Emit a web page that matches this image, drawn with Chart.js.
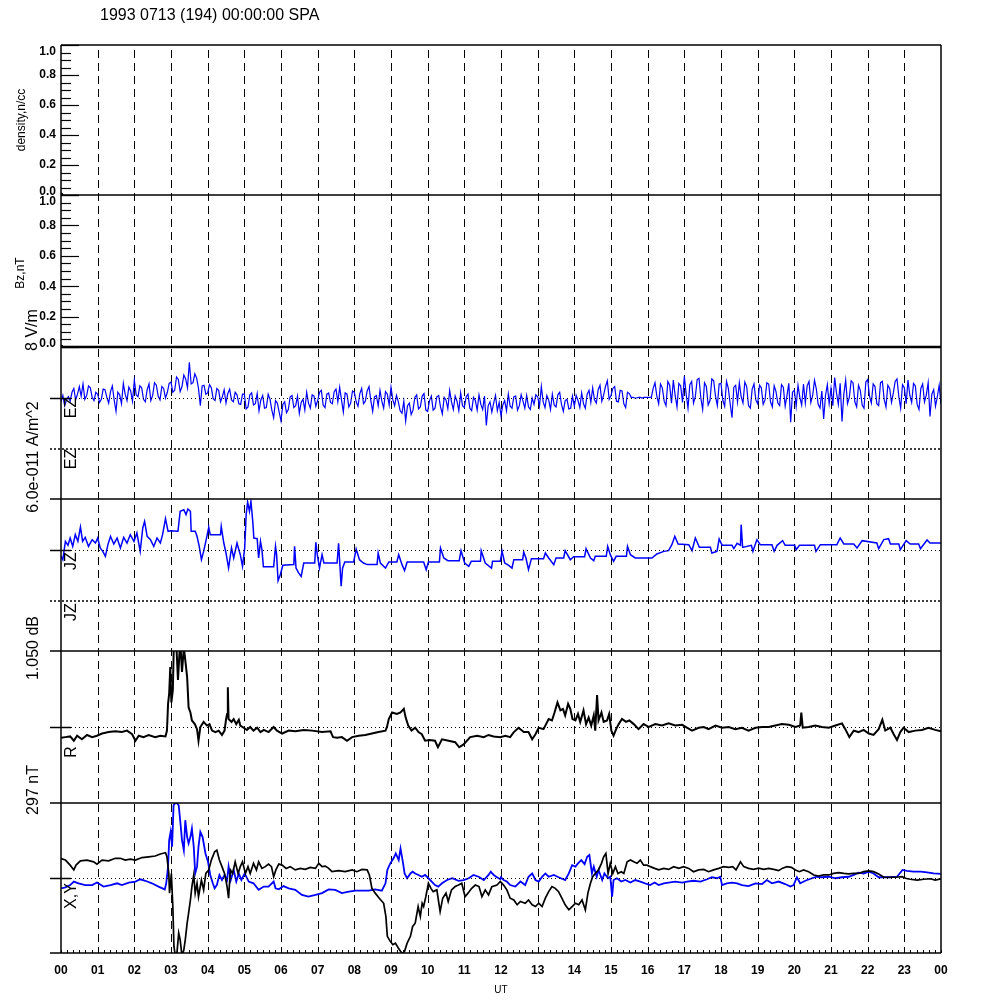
<!DOCTYPE html>
<html>
<head>
<meta charset="utf-8">
<script src="https://cdn.jsdelivr.net/npm/chart.js@4/dist/chart.umd.min.js"></script>
<style>
  html, body { margin: 0; padding: 0; background: #fff; }
  #plot { display: block; }
</style>
</head>
<body>
<canvas id="plot" width="1000" height="1000"></canvas>
<script>
// hour axis
const hourTicks = [0,1,2,3,4,5,6,7,8,9,10,11,12,13,14,15,16,17,18,19,20,21,22,23,24];
const hourLabels = ['00','01','02','03','04','05','06','07','08','09','10','11','12','13','14','15','16','17','18','19','20','21','22','23','00'];

// empty density / Bz panels: only the marker at the origin
const denTimes = [0];
const denValues = [0];
const bzTimes = [0];
const bzValues = [0];

// EZ, V/m, one sample every 0.05 h (20 per hour, one row per hour)
const ezStep = 0.05;
const ezValues = [
  -0.6,0.4,-1.2,-0.3,0.2,-0.5,0.9,1.5,-0.3,0.6,1.8,0.3,2.2,-0.2,0.4,1.9,1.6,0.1,-0.4,0.9,
  0.6,-0.7,-0.2,1.4,1.3,0.1,-0.8,1.0,1.9,-0.3,-2.1,0.9,0.5,-0.9,2.3,0.6,-0.4,1.7,1.1,-0.5,
  2.8,0.5,0.2,1.9,1.6,-0.2,-0.6,1.3,2.2,-0.4,0.4,2.4,2.0,0.3,-0.3,1.8,1.5,0.0,0.9,2.3,
  2.5,0.9,1.2,3.3,2.9,1.0,1.8,3.6,3.0,1.6,5.6,2.2,2.4,3.8,3.1,1.5,-1.2,1.9,2.0,0.6,
  0.8,2.1,1.6,-0.1,-0.4,1.5,1.2,-0.6,0.2,1.3,-0.8,0.7,1.4,-0.3,-0.6,0.9,0.5,-0.9,-1.0,0.6,
  0.6,-1.7,-1.4,0.5,0.8,-1.1,-0.9,0.7,-2.0,-0.3,0.4,-1.6,-1.5,0.6,-0.2,-1.9,-3.1,-0.4,-0.8,-2.2,
  -3.6,-1.0,-0.6,-2.3,-1.8,0.2,0.4,-1.5,-1.2,0.3,-2.4,-0.7,-0.2,-1.9,0.9,-0.8,-1.6,0.5,0.3,-1.3,
  -0.4,0.9,1.2,-1.1,-1.5,0.6,0.8,-0.7,-0.9,1.0,1.4,-0.6,1.7,-0.3,-2.2,0.8,0.6,-1.4,-0.8,1.1,
  0.9,-0.6,-1.3,0.7,1.5,-0.9,-0.5,1.1,1.8,-0.4,-2.1,0.2,0.4,-1.2,1.2,-0.5,-1.6,1.0,0.6,-1.1,
  1.7,-0.3,-1.2,0.4,-0.6,-2.0,-2.4,-0.5,-3.6,-1.2,-0.8,-2.6,-1.9,0.1,0.5,-1.7,-1.4,0.3,0.7,-1.9,
  -2.1,-0.4,0.3,-1.9,-1.6,0.2,0.4,-1.4,-2.5,0.1,-0.3,-1.7,1.2,-0.6,-1.8,0.3,-0.5,-2.0,0.8,-1.2,
  -1.5,0.2,0.6,-1.6,-2.0,0.1,-0.4,-1.9,0.5,-1.0,-1.8,0.3,-4.3,-1.2,-0.6,-2.2,-0.8,0.4,-2.0,-0.7,
  -2.8,-1.1,-0.4,-2.0,0.6,-1.3,-1.6,0.2,0.3,-1.9,-1.2,0.5,-0.5,-1.6,0.4,-1.4,-1.8,0.0,-1.0,0.5,
  0.2,-1.3,1.8,-0.6,-1.5,0.4,-0.3,-1.8,0.6,-1.1,-1.4,0.5,0.9,-1.0,-2.1,-0.4,-0.2,-1.7,-1.6,0.3,
  -1.3,0.4,-0.4,-1.5,0.8,-0.9,-1.6,0.6,1.2,-0.7,1.6,-0.3,-0.8,1.3,2.0,-0.5,0.5,1.8,2.7,-0.2,
  0.4,1.5,1.8,-0.5,-0.6,1.2,1.1,-0.9,-1.5,0.9,0.7,0.1,0.1,0.0,0.0,0.1,0.1,0.0,0.1,0.1,
  0.1,0.1,0.1,1.5,2.4,0.3,-0.9,2.2,1.6,-0.5,-1.2,2.6,2.0,-0.8,2.8,0.4,-1.4,2.3,1.9,-0.7,
  3.4,0.6,-1.6,2.1,2.6,-0.8,0.2,2.9,3.1,0.0,-1.8,2.4,1.8,-1.1,-0.4,3.0,2.7,0.3,-1.2,2.2,
  2.3,-0.4,-1.3,2.6,1.5,-0.9,-3.1,1.7,2.0,-0.6,2.4,0.2,-0.8,2.5,1.8,-1.2,-1.6,1.4,2.2,-0.3,
  -0.9,2.0,1.6,-1.0,-0.3,2.4,2.2,-0.6,-1.4,1.9,1.0,-0.8,-1.2,2.1,1.7,-1.3,0.4,2.3,-3.8,0.9,
  1.2,-1.3,2.0,0.1,-1.1,2.2,-0.8,1.9,2.6,-0.7,0.4,2.8,1.4,-1.0,-1.6,1.1,-3.3,0.4,2.1,-0.9,
  1.5,-1.2,3.2,0.8,-1.0,2.3,-3.7,0.6,2.8,-0.9,0.1,2.7,2.4,-0.6,-1.4,2.0,1.2,-1.1,-1.6,2.5,
  2.9,0.3,-0.8,2.2,1.8,-0.9,-1.2,2.4,2.6,-0.2,-1.4,2.0,1.5,-0.7,0.8,2.6,3.0,0.2,-1.6,2.1,
  1.6,-0.9,2.8,0.4,-0.7,2.3,1.9,-1.0,-1.8,1.5,2.2,-0.6,0.5,2.4,-2.9,0.6,1.3,-1.3,0.2,2.0,
  -1.0
];

// JZ, 1e-11 A/m^2
const jzTimes = [
  0.00,0.05,0.12,0.19,0.25,0.32,0.39,0.46,0.53,0.59,0.66,0.75,0.85,0.94,
  1.00,1.07,1.14,1.21,1.28,1.35,1.44,1.53,1.62,1.71,1.80,1.89,1.99,
  2.07,2.16,2.23,2.28,2.35,2.44,2.53,2.62,2.71,2.77,2.85,2.92,
  3.00,3.19,3.25,3.35,3.41,3.46,3.53,3.55,3.66,3.71,3.77,3.83,3.89,3.95,
  4.03,4.07,4.35,4.37,4.44,4.50,4.57,4.65,4.71,4.80,4.89,4.95,
  5.01,5.05,5.09,5.14,5.18,5.23,5.26,5.35,5.39,5.44,5.48,5.52,5.80,5.85,5.88,5.92,5.98,
  6.05,6.35,6.37,6.41,6.48,6.55,6.62,6.92,6.95,6.99,
  7.05,7.12,7.17,7.53,7.57,7.60,7.64,7.68,7.74,7.98,
  8.05,8.14,8.25,8.35,8.62,8.65,8.71,8.85,8.94,
  9.16,9.21,9.30,9.37,9.44,9.89,9.96,
  10.02,10.32,10.35,10.44,10.55,10.86,10.91,
  11.01,11.12,11.19,11.44,11.46,11.57,11.74,11.77,11.98,
  12.03,12.10,12.21,12.30,12.35,12.59,12.62,12.68,12.75,12.83,
  13.16,13.21,13.30,13.44,13.50,13.71,13.75,13.89,13.98,
  14.28,14.32,14.44,14.53,14.57,14.87,14.91,14.98,
  15.07,15.14,15.42,15.45,15.53,15.66,
  16.12,16.25,16.44,16.57,16.66,16.74,16.83,
  17.12,17.21,17.30,17.41,17.71,17.75,17.89,17.95,
  18.03,18.30,18.35,18.44,18.53,18.55,18.59,18.83,18.87,18.98,
  19.07,19.39,19.45,19.53,19.68,19.75,
  20.01,20.05,20.14,20.55,20.59,20.71,
  21.16,21.25,21.35,21.62,21.71,21.85,
  22.25,22.30,22.44,22.57,22.62,22.85,22.89,
  23.05,23.16,23.39,23.44,23.62,23.70,24.00
];
const jzValues = [
  -0.75,-1.14,1.02,0.55,1.41,0.43,1.80,1.02,2.70,1.02,1.49,0.43,1.22,0.82,
  1.41,0.24,-0.16,-0.75,0.63,1.61,0.71,1.41,0.24,1.49,0.82,1.80,1.02,
  2.00,-0.16,2.59,3.37,1.61,1.22,0.43,1.41,0.82,1.80,3.68,2.20,
  2.27,2.20,4.55,4.74,4.16,4.82,4.55,2.20,2.20,1.61,0.43,-1.14,-0.16,1.02,
  2.67,1.80,1.80,2.78,0.82,-0.35,-2.12,0.24,-0.94,0.82,-0.55,-1.92,
  0.24,4.16,5.64,4.55,5.72,3.37,1.41,1.33,-0.94,1.02,0.04,-1.96,-1.96,0.43,-0.55,-3.61,-2.90,
  -1.80,-1.72,0.43,-2.12,-2.70,-3.10,-1.53,-1.53,0.90,-0.55,
  -2.12,-0.55,-1.53,-1.53,0.78,-1.33,-4.27,-2.12,-1.41,-1.41,
  0.12,-1.14,-1.53,-1.72,-1.72,-0.35,-1.53,-2.12,-1.41,
  -1.41,-0.55,-1.72,-2.43,-1.41,-1.41,-2.31,
  -1.41,-1.41,0.24,-0.94,-1.25,-1.25,-0.08,
  -1.53,-1.92,-1.33,-1.33,-0.08,-1.53,-2.12,-1.33,-1.33,
  -0.16,-1.53,-1.80,-2.12,-1.14,-1.14,-0.24,-0.94,-2.31,-1.02,
  -1.02,-0.35,-0.94,-1.72,-0.94,-0.94,-0.08,-1.14,-0.78,
  -0.78,0.16,-0.94,-1.25,-0.74,-0.74,0.43,-0.55,
  -1.33,-0.74,-0.74,0.43,-0.55,-0.94,
  -0.94,-0.47,-0.16,-0.08,0.63,1.61,0.71,
  0.63,-0.08,1.41,0.31,0.31,-0.35,-0.16,1.29,
  0.55,0.55,0.16,0.78,0.55,2.98,0.31,0.55,-0.16,1.22,
  0.63,0.63,-0.16,0.55,1.10,0.55,
  0.55,0.04,0.55,0.55,-0.16,0.63,
  0.63,1.41,0.71,0.71,0.24,1.10,
  0.82,0.16,1.22,1.33,0.71,0.71,0.04,
  1.10,0.71,0.71,0.16,1.18,0.82,0.82
];

// R, dB
const rTimes = [
  0.00,0.12,0.25,0.35,0.44,0.57,0.71,0.85,0.98,1.12,1.30,1.48,1.66,1.80,1.94,
  2.03,2.12,2.25,2.39,2.57,2.71,2.85,2.89,2.92,2.95,2.98,3.01,3.05,3.08,3.14,
  3.19,3.25,3.30,3.35,3.39,3.44,3.48,3.53,3.57,3.65,3.71,3.75,3.80,3.89,3.98,
  4.05,4.12,4.21,4.30,4.39,4.46,4.50,4.53,4.55,4.57,4.65,4.71,4.78,4.85,4.89,4.98,
  5.07,5.16,5.25,5.35,5.44,5.53,5.66,5.80,5.89,6.03,6.21,6.39,6.62,6.85,
  7.12,7.35,7.42,7.53,7.66,7.80,7.94,8.12,8.30,8.48,8.66,8.85,8.89,8.94,
  9.03,9.16,9.26,9.35,9.40,9.47,9.56,9.66,9.75,9.84,9.93,
  10.05,10.20,10.28,10.39,10.57,10.75,10.86,10.98,11.16,11.35,11.53,11.66,11.80,11.98,
  12.12,12.25,12.35,12.48,12.62,12.75,12.85,12.94,13.03,13.16,13.30,13.39,13.46,13.54,
  13.62,13.69,13.75,13.83,13.89,13.95,14.03,14.10,14.16,14.25,14.32,14.39,14.46,14.53,
  14.57,14.62,14.66,14.74,14.80,14.89,14.95,15.01,15.07,15.14,15.21,15.30,15.41,15.50,
  15.62,15.75,15.89,16.03,16.21,16.39,16.57,16.75,16.94,17.07,17.21,17.39,17.53,17.66,
  17.85,18.03,18.21,18.39,18.57,18.75,18.94,19.12,19.30,19.48,19.66,19.85,20.03,20.16,
  20.19,20.23,20.39,20.57,20.75,20.94,21.12,21.30,21.39,21.50,21.62,21.75,21.89,22.03,
  22.16,22.30,22.40,22.48,22.62,22.71,22.80,22.89,22.98,23.12,23.30,23.48,23.66,23.84,24.00
];
const rValues = [
  -0.15,-0.14,-0.13,-0.19,-0.12,-0.17,-0.11,-0.14,-0.12,-0.09,-0.07,-0.06,-0.07,-0.05,-0.10,
  -0.19,-0.12,-0.14,-0.11,-0.14,-0.12,-0.13,-0.05,0.32,0.46,0.83,0.34,0.51,1.2,1.2,
  0.65,1.2,0.76,1.1,0.92,0.69,0.27,0.20,0.09,0.04,-0.03,-0.19,0.00,0.07,0.02,
  0.04,-0.05,-0.07,-0.05,-0.11,-0.05,0.10,0.18,0.55,0.11,0.07,0.11,0.04,0.10,0.02,-0.01,
  -0.04,0.00,-0.05,-0.01,-0.07,-0.04,-0.07,0.00,-0.05,-0.09,-0.05,-0.06,-0.04,-0.05,
  -0.07,-0.06,-0.14,-0.15,-0.14,-0.19,-0.14,-0.12,-0.11,-0.09,-0.07,-0.05,0.00,0.11,
  0.20,0.18,0.20,0.25,0.13,0.02,-0.05,-0.01,-0.07,-0.10,-0.19,
  -0.18,-0.19,-0.28,-0.17,-0.19,-0.21,-0.28,-0.24,-0.14,-0.12,-0.14,-0.11,-0.13,-0.14,
  -0.12,-0.14,-0.07,-0.01,-0.07,-0.07,-0.17,-0.10,-0.01,-0.03,0.11,0.09,0.20,0.34,
  0.23,0.25,0.16,0.32,0.25,0.11,0.09,0.18,0.07,0.23,0.04,0.13,0.02,0.16,
  -0.05,0.44,0.09,0.20,0.07,0.09,0.18,-0.05,-0.12,-0.03,0.04,0.11,0.07,0.09,
  0.04,-0.03,0.04,0.00,0.04,0.02,0.05,0.02,0.03,-0.01,-0.05,-0.01,0.00,-0.03,
  0.02,-0.01,0.00,-0.03,-0.01,-0.05,-0.01,0.00,0.00,0.02,0.04,0.03,0.00,0.02,
  0.20,-0.01,0.00,0.02,0.00,-0.01,0.02,0.05,-0.03,-0.14,-0.05,-0.07,-0.04,-0.09,
  -0.11,-0.03,0.10,-0.05,-0.01,-0.10,-0.18,-0.07,-0.01,-0.07,-0.05,-0.04,-0.01,-0.04,-0.06
];

// X (black) and Y (blue), nT
const xTimes = [
  0.00,0.12,0.25,0.35,0.41,0.53,0.71,0.89,0.98,1.12,
  1.30,1.48,1.62,1.75,1.89,2.03,2.21,2.39,2.57,2.71,
  2.85,2.89,2.94,2.96,3.01,3.05,3.08,3.12,3.16,3.21,
  3.25,3.30,3.35,3.39,3.44,3.48,3.53,3.57,3.62,3.66,
  3.71,3.75,3.83,3.89,3.95,4.03,4.10,4.19,4.25,4.32,
  4.39,4.46,4.53,4.57,4.62,4.68,4.75,4.83,4.89,4.95,
  5.03,5.10,5.16,5.25,5.33,5.39,5.48,5.57,5.66,5.74,
  5.80,5.86,5.94,6.03,6.14,6.25,6.39,6.53,6.66,6.80,
  6.94,7.03,7.12,7.21,7.30,7.39,7.57,7.75,7.94,8.07,
  8.21,8.35,8.41,8.48,8.57,8.68,8.80,8.86,8.90,8.98,
  9.05,9.12,9.20,9.26,9.31,9.37,9.44,9.53,9.59,9.66,
  9.74,9.80,9.85,9.89,9.95,10.02,10.09,10.15,10.25,10.34,
  10.41,10.50,10.56,10.65,10.75,10.84,10.93,11.02,11.10,11.20,
  11.30,11.40,11.48,11.57,11.66,11.75,11.89,11.98,
  12.07,12.16,12.25,12.35,12.44,12.53,12.66,12.75,12.85,12.94,
  13.03,13.12,13.21,13.30,13.39,13.48,13.57,13.66,13.75,13.85,
  13.94,14.03,14.12,14.21,14.30,14.37,14.44,14.50,14.57,14.66,
  14.74,14.80,14.86,14.92,14.98,15.05,15.12,15.19,15.28,15.35,
  15.44,15.53,15.62,15.71,15.80,15.89,15.98,16.07,16.19,16.30,
  16.44,16.57,16.71,16.85,16.98,17.12,17.25,17.39,17.53,17.66,
  17.80,17.94,18.07,18.21,18.32,18.41,18.53,18.62,18.75,18.89,
  19.03,19.16,19.30,19.44,19.57,19.68,19.80,19.92,20.03,20.14,
  20.25,20.39,20.53,20.66,20.80,20.94,21.07,21.21,21.35,21.48,
  21.62,21.75,21.89,22.03,22.16,22.30,22.44,22.57,22.75,22.94,
  23.03,23.16,23.35,23.53,23.71,23.84,24.00
];
const xValues = [
  77,71,51,32,51,68,71,64,55,71,
  68,78,78,71,75,71,81,84,87,95,
  100,84,18,-60,18,-113,-271,-310,-300,-218,
  -244,-310,-284,-244,-179,-139,-87,-34,12,-60,
  -21,-74,-8,-47,18,32,71,104,110,71,
  45,18,-34,-80,32,18,64,18,45,64,
  18,45,18,58,32,64,38,45,55,45,
  5,32,55,51,38,45,32,38,34,42,
  38,58,45,47,38,25,29,25,32,25,
  34,32,12,-41,-60,-80,-100,-152,-231,-251,
  -264,-258,-277,-290,-300,-290,-258,-231,-192,-179,
  -113,-152,-100,-113,-74,-21,-41,-54,-47,-133,
  -80,-60,-93,-47,-34,-28,-21,-74,-60,-41,
  -28,-34,-74,-47,-67,-34,-28,-14,
  -28,-47,-80,-87,-106,-93,-100,-87,-106,-113,
  -100,-113,-80,-54,-34,-41,-54,-80,-106,-126,
  -113,-100,-106,-87,-126,-60,-21,5,18,32,
  58,84,97,18,58,18,45,18,25,18,
  64,71,64,58,71,51,51,45,38,32,
  38,34,45,38,45,38,25,32,34,25,
  32,38,45,42,45,32,64,45,38,34,
  39,34,38,34,29,39,45,42,32,25,
  32,25,12,8,12,12,18,21,18,16,
  18,18,25,28,25,16,3,3,3,5,
  -1,-5,-8,-5,-3,-8,-3
];
const yTimes = [
  0.00,0.12,0.25,0.35,0.48,0.66,0.85,0.98,1.16,1.35,
  1.53,1.66,1.85,2.03,2.16,2.30,2.48,2.66,2.83,2.87,
  2.92,2.95,2.99,3.03,3.07,3.14,3.21,3.25,3.30,3.35,
  3.39,3.44,3.48,3.53,3.57,3.62,3.66,3.71,3.75,3.80,
  3.86,3.94,4.01,4.07,4.14,4.19,4.25,4.32,4.39,4.46,
  4.53,4.57,4.63,4.71,4.78,4.85,4.92,5.01,5.12,5.25,
  5.39,5.53,5.66,5.80,5.85,5.94,6.07,6.21,6.39,6.57,
  6.75,6.94,7.12,7.30,7.48,7.66,7.85,8.03,8.21,8.39,
  8.57,8.75,8.85,8.90,8.98,9.07,9.13,9.21,9.26,9.33,
  9.37,9.44,9.53,9.59,9.66,9.75,9.84,9.93,10.02,10.11,
  10.20,10.29,10.39,10.53,10.67,10.84,10.98,11.12,11.25,11.39,
  11.53,11.66,11.72,11.80,11.89,11.98,
  12.00,12.07,12.16,12.25,12.39,12.53,12.66,12.75,12.85,12.94,
  13.03,13.12,13.21,13.30,13.44,13.57,13.75,13.85,13.94,14.03,
  14.10,14.19,14.28,14.35,14.41,14.48,14.53,14.61,14.66,14.76,
  14.82,14.92,14.98,15.03,15.07,15.16,15.28,15.39,15.53,15.66,
  15.80,15.93,16.07,16.19,16.30,16.44,16.57,16.75,16.94,17.07,
  17.25,17.44,17.62,17.75,17.89,17.98,18.03,18.16,18.30,18.44,
  18.57,18.75,18.94,19.12,19.25,19.39,19.57,19.75,19.89,19.98,
  20.07,20.16,20.30,20.48,20.61,20.75,20.94,21.12,21.30,21.48,
  21.62,21.75,21.89,22.03,22.16,22.30,22.44,22.62,22.80,22.95,
  23.07,23.25,23.44,23.62,23.80,24.00
];
const yValues = [
  -41,-37,-28,-14,-21,-28,-28,-18,-34,-28,
  -21,-28,-18,-14,-5,-11,-21,-34,-45,-21,
  45,150,183,124,288,300,288,229,150,110,
  229,163,137,163,196,124,18,45,124,183,
  163,97,64,12,-21,-41,-28,12,-8,12,
  -8,45,-8,32,-14,18,-8,18,-14,-21,
  -47,-34,-34,-14,-41,-45,-32,-41,-47,-67,
  -74,-67,-60,-45,-47,-60,-54,-50,-50,-50,
  -45,-50,-21,32,58,78,97,71,117,58,
  18,-1,18,25,18,12,5,12,-1,-14,
  -28,-34,-21,-8,-1,-11,-8,-1,12,5,
  -8,12,25,12,3,-5,
  3,-8,-14,-28,-34,-14,-28,5,18,-8,
  -14,5,18,5,12,3,-8,18,51,45,
  58,71,55,84,91,18,45,5,32,-8,
  18,-1,5,-74,-8,-1,-14,-8,-18,-8,
  -14,-21,-28,-18,-28,-21,-18,-14,-18,-14,
  -11,-14,-5,3,-1,5,-28,-21,-18,-21,
  -28,-32,-21,-24,-8,-21,-14,-24,-34,-28,
  3,-21,-11,-1,5,3,5,-1,3,5,
  12,21,18,25,18,3,3,3,5,32,
  28,25,25,22,18,16
];

const pts = (ts, vs) => ts.map((t, i) => ({ x: t, y: vs[i] }));
const ezTimes = ezValues.map((v, i) => i * ezStep);

Chart.defaults.font.family = '"Liberation Sans", Arial, Helvetica, sans-serif';
Chart.defaults.color = '#000';

const BLUE = '#0000ff';
const FONT = '"Liberation Sans", Arial, Helvetica, sans-serif';

function panel(min, max, height, order) {
  return {
    type: 'linear', position: 'left', stack: 'panels', stackWeight: height, weight: order,
    min: min, max: max,
    ticks: { display: false },
    grid: { display: false, drawTicks: false },
    border: { display: false },
    afterFit: s => { s.width = 61; }
  };
}

function line(ctx, x1, y1, x2, y2) {
  ctx.beginPath();
  ctx.moveTo(x1, y1);
  ctx.lineTo(x2, y2);
  ctx.stroke();
}

function vtext(ctx, txt, x, y, size) {
  ctx.save();
  ctx.translate(x, y);
  ctx.rotate(-Math.PI / 2);
  ctx.font = size + 'px ' + FONT;
  ctx.textAlign = 'center';
  ctx.textBaseline = 'middle';
  ctx.fillText(txt, 0, 0);
  ctx.restore();
}

const decor = {
  id: 'decor',
  beforeDatasetsDraw(chart) {
    const { ctx, chartArea: a } = chart;
    const xs = chart.scales.x;
    ctx.save();
    ctx.strokeStyle = '#000';
    ctx.lineWidth = 1;
    ctx.setLineDash([8, 5]);
    ctx.lineDashOffset = 8;
    hourTicks.forEach(h => {
      if (h === 0 || h === 24) return;
      const px = Math.round(xs.getPixelForValue(h)) + 0.5;
      line(ctx, px, a.top, px, a.bottom);
    });
    ctx.restore();
  },
  afterDatasetsDraw(chart) {
    const { ctx, chartArea: a, scales: s } = chart;
    const xs = s.x;
    const L = xs.getPixelForValue(0);
    const R = xs.getPixelForValue(24);
    const outL = L - 11;
    ctx.save();
    ctx.strokeStyle = '#000';
    ctx.fillStyle = '#000';

    // outer frame
    ctx.lineWidth = 1.5;
    line(ctx, L, a.top, L, a.bottom);
    line(ctx, R, a.top, R, a.bottom);
    line(ctx, L, a.top, R, a.top);
    line(ctx, L, s.yBz.top, R, s.yBz.top);
    line(ctx, outL, a.bottom, R, a.bottom);
    ctx.lineWidth = 2.5;
    line(ctx, L, s.yEz.top, R, s.yEz.top);
    ctx.lineWidth = 1.5;
    [s.yJz.top, s.yR.top, s.yXY.top].forEach(y => line(ctx, outL, y, R, y));
    ctx.setLineDash([2, 2]);
    [s.yEzB.top, s.yJzB.top].forEach(y => line(ctx, outL, y, R, y));
    ctx.setLineDash([]);

    // zero lines of the signed panels
    ['yEz', 'yJz', 'yR', 'yXY'].forEach(id => {
      const y = Math.round(s[id].getPixelForValue(0)) + 0.5;
      ctx.lineWidth = 1.5;
      line(ctx, outL, y, L + 10, y);
      ctx.lineWidth = 1;
      ctx.setLineDash([1, 3]);
      line(ctx, L + 10, y, R, y);
      ctx.setLineDash([]);
    });

    // y ticks for density and Bz
    ctx.lineWidth = 1.2;
    ['yDen', 'yBz'].forEach(id => {
      const sc = s[id];
      for (let k = 0; k <= 20; k++) {
        const v = k / 20;
        const y = Math.round(sc.getPixelForValue(v)) + 0.5;
        const len = k % 4 === 0 ? 18 : 10;
        line(ctx, L, y, L + len, y);
      }
      ctx.font = 'bold 12px ' + FONT;
      ctx.textAlign = 'right';
      ctx.textBaseline = 'middle';
      [0, 0.2, 0.4, 0.6, 0.8, 1.0].forEach(v => {
        let y = sc.getPixelForValue(v);
        if (v === 1) y += 7;
        if (v === 0) y -= 3;
        ctx.fillText(v.toFixed(1), 56, y);
      });
    });

    // minor time ticks on the bottom axis
    ctx.lineWidth = 1;
    for (let m = 0; m <= 144; m++) {
      const px = Math.round(xs.getPixelForValue(m / 6)) + 0.5;
      line(ctx, px, a.bottom, px, a.bottom - 3);
    }

    // title
    ctx.font = '16px ' + FONT;
    ctx.textAlign = 'left';
    ctx.textBaseline = 'middle';
    ctx.fillText('1993 0713 (194) 00:00:00 SPA', 100, 16);

    // panel labels
    const mid = id => (s[id].top + s[id].bottom) / 2;
    vtext(ctx, 'density,n/cc', 22, mid('yDen'), 12);
    vtext(ctx, 'Bz,nT', 21, mid('yBz') + 2, 12);
    vtext(ctx, '8 V/m', 33, 330, 16);
    vtext(ctx, '6.0e-011 A/m^2', 34, 457, 16);
    vtext(ctx, '1.050 dB', 34, 648, 16);
    vtext(ctx, '297 nT', 34, 790, 16);
    vtext(ctx, 'EZ', 72, 408, 16);
    vtext(ctx, 'EZ', 72, 459, 16);
    vtext(ctx, 'JZ', 72, 561, 16);
    vtext(ctx, 'JZ', 72, 612, 16);
    vtext(ctx, 'R', 72, 752, 16);
    vtext(ctx, 'X,Y', 72, 896, 16);
    ctx.restore();
  }
};

const trace = (label, data, axis, color, width) => ({
  label: label, data: data, yAxisID: axis,
  borderColor: color, backgroundColor: color,
  borderWidth: width, pointRadius: 0, tension: 0, fill: false
});

new Chart(document.getElementById('plot'), {
  type: 'line',
  data: {
    datasets: [
      Object.assign(trace('density', pts(denTimes, denValues), 'yDen', '#000', 1), { pointRadius: 2 }),
      Object.assign(trace('Bz', pts(bzTimes, bzValues), 'yBz', '#000', 1), { pointRadius: 2 }),
      trace('EZ', pts(ezTimes, ezValues), 'yEz', BLUE, 1.2),
      trace('JZ', pts(jzTimes, jzValues), 'yJz', BLUE, 1.5),
      trace('R', pts(rTimes, rValues), 'yR', '#000', 2),
      trace('X', pts(xTimes, xValues), 'yXY', '#000', 1.7),
      trace('Y', pts(yTimes, yValues), 'yXY', BLUE, 1.8)
    ]
  },
  options: {
    responsive: false,
    animation: false,
    devicePixelRatio: 1,
    events: [],
    layout: { padding: { top: 45, right: 59, bottom: 0, left: 0 } },
    plugins: { legend: { display: false }, tooltip: { enabled: false }, title: { display: false } },
    scales: {
      x: {
        type: 'linear', position: 'bottom', min: 0, max: 24,
        ticks: {
          stepSize: 1, autoSkip: false, maxRotation: 0, padding: 10,
          font: { size: 12, weight: 'bold' }, color: '#000',
          callback: (v, i) => hourLabels[i]
        },
        grid: { display: false, drawTicks: false },
        border: { display: false },
        title: { display: true, text: 'UT', font: { size: 10 }, color: '#000', padding: { top: 0, bottom: 4 } },
        afterFit: sc => { sc.height = 47; }
      },
      yDen: panel(0, 1, 150, 8),
      yBz: panel(0, 1, 152, 7),
      yEz: panel(-8, 8, 102, 6),
      yEzB: panel(0, 1, 50, 5),
      yJz: panel(-6, 6, 102, 4),
      yJzB: panel(0, 1, 50, 3),
      yR: panel(-1.05, 1.05, 152, 2),
      yXY: panel(-297, 297, 150, 1)
    }
  },
  plugins: [decor]
});
</script>
</body>
</html>
